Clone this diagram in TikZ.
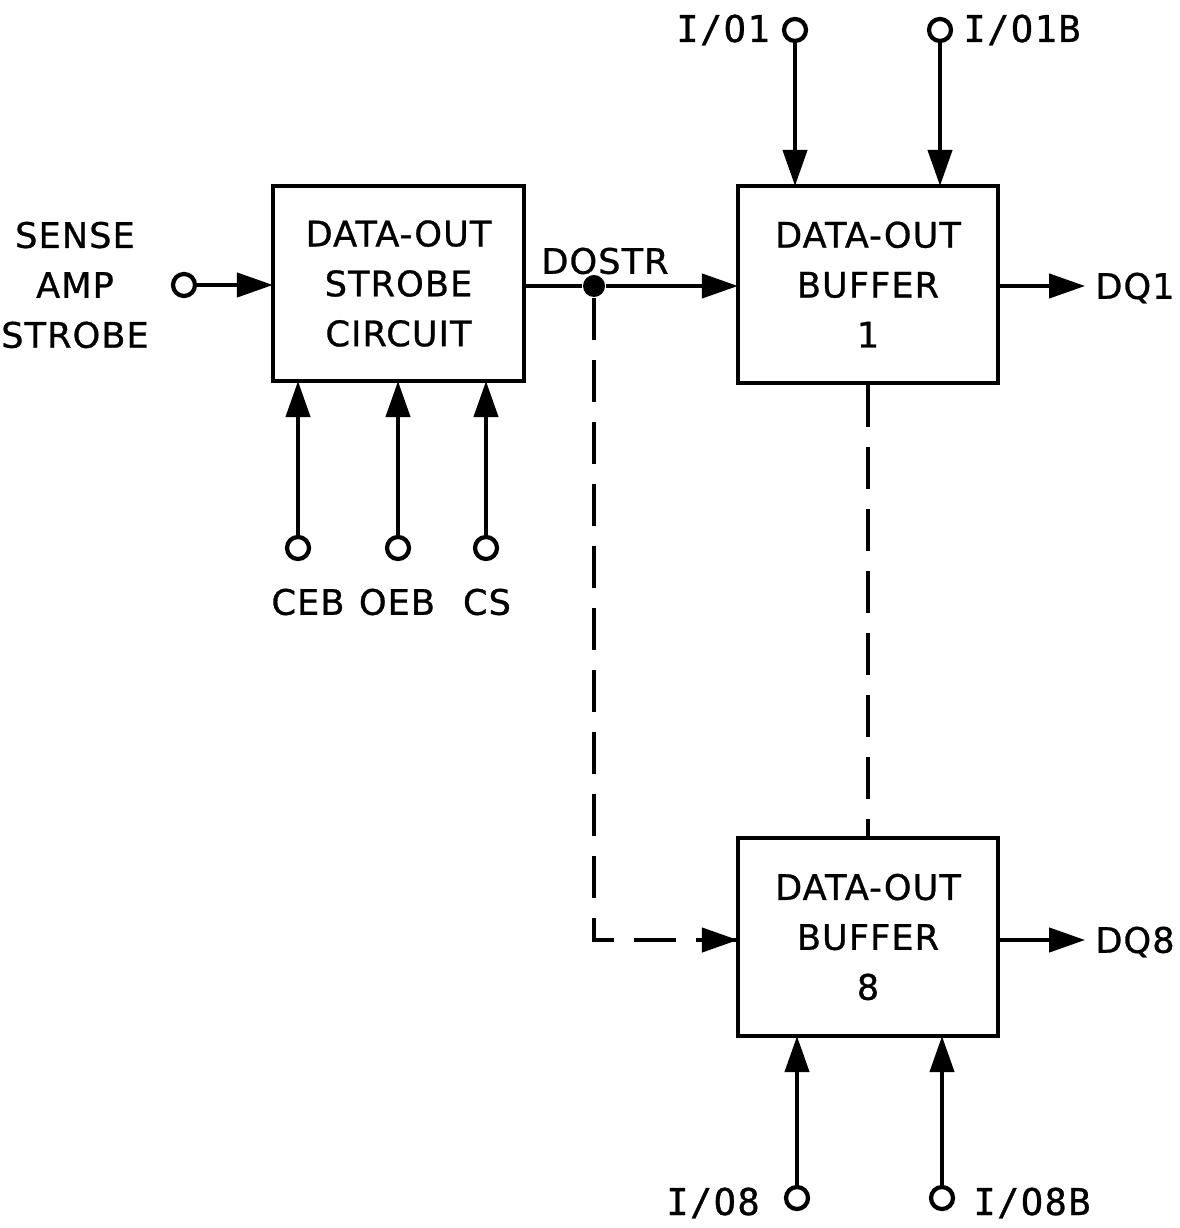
\documentclass[tikz,border=0pt]{standalone}
\usepackage{fontspec}
\setmainfont{DejaVu Sans}[LetterSpace=3,FakeBold=0.8]
\newfontfamily\iofont{DejaVu Sans Mono}[LetterSpace=4,FakeBold=0.8]
\usetikzlibrary{arrows.meta}
\begin{document}
\begin{tikzpicture}[x=0.01cm,y=-0.01cm,
  lw/.style={line width=1.2pt},
  blk/.style={draw,lw,rectangle,inner sep=0pt,align=center,font=\fontsize{10}{14.2}\selectfont},
  term/.style={draw,lw,circle,minimum size=0.22cm,inner sep=0pt},
  jdot/.style={fill,circle,minimum size=0.22cm,inner sep=0pt},
  arr/.style={lw,shorten >=-0.6pt,-{Triangle[length=3.6mm,width=2.4mm]}},
  dsh/.style={lw,dash pattern=on 0.42cm off 0.2cm},
  lbl/.style={font=\fontsize{10}{14.2}\selectfont,align=center,inner sep=0pt},
  iol/.style={font=\iofont\fontsize{10.5}{12}\selectfont,inner sep=0pt}]
\useasboundingbox (0,0) rectangle (1180,1228);
% blocks
\node[blk,minimum width=2.51cm,minimum height=1.95cm] (b1) at (398.5,283.5) {DATA-OUT\\STROBE\\CIRCUIT};
\node[blk,minimum width=2.60cm,minimum height=1.97cm] (b2) at (868,284.5) {DATA-OUT\\BUFFER\\1};
\node[blk,minimum width=2.60cm,minimum height=1.98cm] (b3) at (868,937) {DATA-OUT\\BUFFER\\8};
% terminals
\node[term] (sa) at (184,285) {};
\node[term] (io1) at (795,30) {};
\node[term] (io1b) at (940,30) {};
\node[term] (io8) at (797,1198) {};
\node[term] (io8b) at (942,1198) {};
\node[term] (ceb) at (298,548) {};
\node[term] (oeb) at (398,548) {};
\node[term] (cs) at (486,548) {};
\node[jdot] (dos) at (594,286) {};
\coordinate (dq1) at (1083,286);
\coordinate (dq8) at (1083,940);
\coordinate (bend) at (594,940);
% labels
\node[lbl] (lsa) at (75,285) {SENSE\\AMP\\STROBE};
\node[lbl] (ldos) at (605,261) {DOSTR};
\node[lbl] (ldq1) at (1135,288) {DQ1};
\node[lbl] (ldq8) at (1135,942) {DQ8};
\node[lbl] (lceb) at (308,602) {CEB};
\node[lbl] (loeb) at (397,602) {OEB};
\node[lbl] (lcs) at (487,602) {CS};
\node[iol] (lio1) at (723,30) {I/O1};
\node[iol] (lio1b) at (1022,30) {I/O1B};
\node[iol] (lio8) at (713,1203) {I/O8};
\node[iol] (lio8b) at (1032,1203) {I/O8B};
% connectors
\draw[arr] (sa.east) -- (sa -| b1.west);
\draw[lw] (b1.east |- dos) -- (dos);
\draw[arr] (dos) -- (dos -| b2.west);
\draw[arr] (io1.south) -- (io1 |- b2.north);
\draw[arr] (io1b.south) -- (io1b |- b2.north);
\draw[arr] (io8.north) -- (io8 |- b3.south);
\draw[arr] (io8b.north) -- (io8b |- b3.south);
\draw[arr] (ceb.north) -- (ceb |- b1.south);
\draw[arr] (oeb.north) -- (oeb |- b1.south);
\draw[arr] (cs.north) -- (cs |- b1.south);
\draw[arr] (b2.east |- dq1) -- (dq1);
\draw[arr] (b3.east |- dq8) -- (dq8);
\draw[dsh] (dos) -- (bend) -- (bend -| b3.west);
\draw[arr] (700,940) -- (bend -| b3.west);
\draw[dsh] (b2.south) -- (b3.north);
\end{tikzpicture}
\end{document}
